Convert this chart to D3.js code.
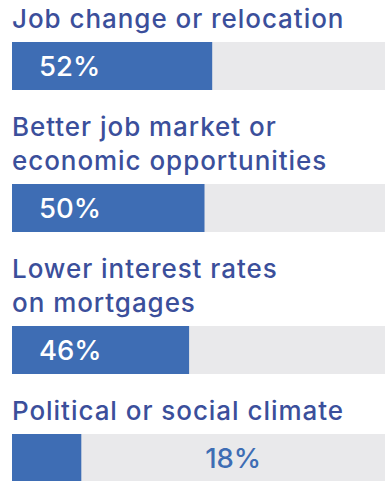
<!DOCTYPE html>
<html>
<head>
<meta charset="utf-8">
<script src="https://cdn.jsdelivr.net/npm/d3@7"></script>
<style>
  html, body { margin: 0; padding: 0; background: #ffffff; }
  svg { display: block; }
</style>
</head>
<body>
<svg id="chart" width="385" height="481"></svg>
<script>
// Reasons, one entry per bar (each inner array is one line of the label)
const categories = [
  ["Job change or relocation"],
  ["Better job market or", "economic opportunities"],
  ["Lower interest rates", "on mortgages"],
  ["Political or social climate"]
];
const values = [52, 50, 46, 18];
const valueLabels = ["52%", "50%", "46%", "18%"];

const W = 385, H = 481;
const left = 12;
const barH = 48;
const lineH = 34;
const fontFamily = "Inter, 'Noto Sans', sans-serif";

const svg = d3.select("#chart");
const x = d3.scaleLinear().domain([0, 100]).range([left, left + 385]);

// vertical layout: label lines followed by the bar
let cursor = 0;
const layout = categories.map((lines, i) => {
  const firstBase = cursor + (i === 0 ? 28 : 46);
  const barTop = firstBase + (lines.length - 1) * lineH + 14;
  cursor = barTop + barH;
  return { lines, firstBase, barTop, value: values[i], label: valueLabels[i] };
});

const g = svg.selectAll("g.item").data(layout).join("g").attr("class", "item");

g.each(function (d) {
  const sel = d3.select(this);
  sel.selectAll("text.cat").data(d.lines).join("text")
    .attr("class", "cat")
    .attr("x", left)
    .attr("y", (t, j) => d.firstBase + j * lineH)
    .attr("fill", "#3b4f9b")
    .style("font-family", fontFamily)
    .style("font-size", "26px")
    .style("font-weight", 500)
    .style("letter-spacing", "0.95px")
    .text(t => t);

  sel.append("rect")
    .attr("x", x(0)).attr("y", d.barTop)
    .attr("width", x(100) - x(0)).attr("height", barH)
    .attr("fill", "#e9e9eb");

  sel.append("rect")
    .attr("x", x(0)).attr("y", d.barTop)
    .attr("width", x(d.value) - x(0)).attr("height", barH)
    .attr("fill", "#3e6db4");

  const inside = d.value >= 30;
  sel.append("text")
    .attr("x", inside ? x(0) + 27 : (x(d.value) + W) / 2)
    .attr("y", d.barTop + 34)
    .attr("text-anchor", inside ? "start" : "middle")
    .attr("fill", inside ? "#ffffff" : "#3e6db4")
    .style("font-family", fontFamily)
    .style("font-size", "27.5px")
    .style("font-weight", 500)
    .text(d.label);
});
</script>
</body>
</html>
